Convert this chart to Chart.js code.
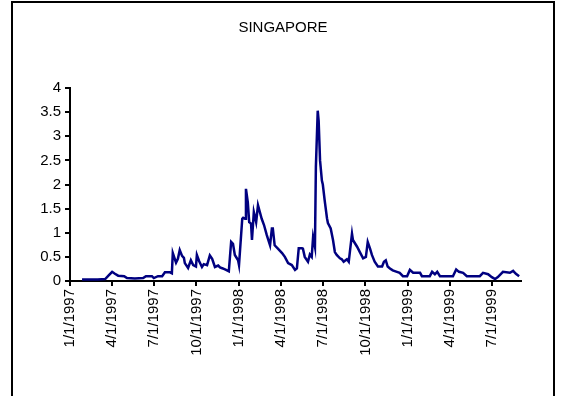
<!DOCTYPE html>
<html>
<head>
<meta charset="utf-8">
<script src="https://cdn.jsdelivr.net/npm/chart.js@4/dist/chart.umd.min.js"></script>
<style>
body{margin:0;background:#fff}
#wrap{position:relative;width:562px;height:396px;overflow:hidden}
#frame{position:absolute;left:11px;top:1px;width:540px;height:420px;border:2px solid #000}
#c{position:absolute;left:0;top:0}
#title{position:absolute;left:0;top:18px;width:566px;text-align:center;font:15px 'Liberation Sans',Arial,sans-serif;color:#000}
</style>
</head>
<body>
<div id="wrap">
<div id="frame"></div>
<canvas id="c" width="562" height="396"></canvas>
<div id="title">SINGAPORE</div>
</div>
<script>
// data
const dates=[
"1997-01-27","1997-02-13","1997-03-02","1997-03-18","1997-03-26","1997-04-02","1997-04-08","1997-04-15","1997-04-28","1997-05-04",
"1997-05-21","1997-06-08","1997-06-14","1997-06-27","1997-07-01","1997-07-10","1997-07-19","1997-07-25","1997-08-05","1997-08-09",
"1997-08-11","1997-08-18","1997-08-22","1997-08-26","1997-08-31","1997-09-04","1997-09-06","1997-09-13","1997-09-19","1997-09-24",
"1997-09-30","1997-10-02","1997-10-07","1997-10-13","1997-10-17","1997-10-24","1997-10-30","1997-11-04","1997-11-10","1997-11-17",
"1997-11-21","1997-11-27","1997-12-04","1997-12-10","1997-12-15","1997-12-19","1997-12-23","1997-12-30","1998-01-01","1998-01-08",
"1998-01-10","1998-01-14","1998-01-16","1998-01-20","1998-01-23","1998-01-27","1998-01-29","1998-02-02","1998-02-07","1998-02-11",
"1998-02-15","1998-02-19","1998-02-24","1998-03-02","1998-03-09","1998-03-13","1998-03-15","1998-03-19","1998-03-26","1998-04-04",
"1998-04-10","1998-04-17","1998-04-25","1998-05-02","1998-05-06","1998-05-10","1998-05-17","1998-05-19","1998-05-23","1998-05-30",
"1998-06-03","1998-06-07","1998-06-10","1998-06-14","1998-06-16","1998-06-20","1998-06-22","1998-06-25","1998-06-29","1998-07-01",
"1998-07-05","1998-07-10","1998-07-12","1998-07-18","1998-07-23","1998-07-27","1998-07-31","1998-08-07","1998-08-11","1998-08-15",
"1998-08-22","1998-08-26","1998-09-02","1998-09-04","1998-09-13","1998-09-19","1998-09-26","1998-10-02","1998-10-06","1998-10-11",
"1998-10-15","1998-10-21","1998-10-28","1998-11-06","1998-11-10","1998-11-14","1998-11-18","1998-11-23","1998-11-29","1998-12-08",
"1998-12-14","1998-12-21","1998-12-30","1999-01-05","1999-01-12","1999-01-27","1999-01-31","1999-02-17","1999-02-22","1999-02-28",
"1999-03-05","1999-03-11","1999-04-08","1999-04-15","1999-04-21","1999-04-30","1999-05-08","1999-06-05","1999-06-12","1999-06-23",
"1999-07-01","1999-07-08","1999-07-14","1999-07-25","1999-08-09","1999-08-16","1999-08-22","1999-08-29"
]
const values=[
0.03,0.03,0.03,0.04,0.12,0.19,0.15,0.11,0.10,0.06,
0.05,0.06,0.10,0.10,0.06,0.10,0.10,0.18,0.18,0.16,
0.58,0.38,0.46,0.64,0.52,0.48,0.37,0.27,0.43,0.33,
0.30,0.54,0.41,0.29,0.35,0.33,0.53,0.46,0.29,0.32,
0.28,0.26,0.23,0.20,0.81,0.77,0.54,0.43,0.33,1.29,
1.31,1.29,1.91,1.63,1.22,1.19,0.85,1.43,1.22,1.57,
1.43,1.29,1.16,0.95,0.74,1.09,1.09,0.74,0.67,0.58,
0.50,0.37,0.33,0.23,0.26,0.68,0.68,0.67,0.50,0.40,
0.55,0.50,0.91,0.71,2.36,3.53,3.32,2.50,2.08,2.00,
1.67,1.30,1.20,1.09,0.85,0.60,0.54,0.47,0.45,0.40,
0.45,0.40,0.98,0.85,0.71,0.60,0.47,0.50,0.81,0.67,
0.54,0.40,0.30,0.30,0.40,0.43,0.30,0.26,0.22,0.19,
0.17,0.10,0.10,0.23,0.17,0.17,0.10,0.10,0.19,0.14,
0.19,0.10,0.10,0.24,0.19,0.17,0.10,0.10,0.17,0.14,
0.08,0.04,0.08,0.19,0.17,0.21,0.15,0.10
]
const tickDates=["1997-01-01","1997-04-01","1997-07-01","1997-10-01","1998-01-01","1998-04-01","1998-07-01","1998-10-01","1999-01-01","1999-04-01","1999-07-01"]
const yTicks=[0,0.5,1,1.5,2,2.5,3,3.5,4]

const start=Date.UTC(1997,0,1)
function dayOf(s){
let p=s.split("-")
return Math.round((Date.UTC(+p[0],+p[1]-1,+p[2])-start)/86400000)
}
function label(d){
let t=new Date(start+d*86400000)
return (t.getUTCMonth()+1)+"/"+t.getUTCDate()+"/"+t.getUTCFullYear()
}

const pts=dates.map((d,i)=>({x:dayOf(d),y:values[i]}))
const xt=tickDates.map(dayOf)

Chart.defaults.font.family="'Liberation Sans', Arial, sans-serif"
Chart.defaults.font.size=15
Chart.defaults.color="#000"

new Chart(document.getElementById("c"),{
type:"line",
data:{datasets:[{
data:pts,
borderColor:"#000080",
borderWidth:2.5,
pointRadius:0,
tension:0,
fill:false
}]},
options:{
responsive:false,
animation:false,
layout:{padding:{left:0,right:41,top:88,bottom:0}},
plugins:{
legend:{display:false},
tooltip:{enabled:false},
title:{display:false}
},
scales:{
x:{
type:"linear",
min:0,
max:dayOf(dates[dates.length-1])+4,
afterBuildTicks:s=>{s.ticks=xt.map(v=>({value:v}))},
afterFit:s=>{s.height=115},
ticks:{autoSkip:false,minRotation:90,maxRotation:90,padding:3,callback:v=>label(v)},
grid:{display:true,drawOnChartArea:false,drawTicks:true,tickLength:5,color:"#000",lineWidth:2},
border:{display:true,color:"#000",width:2}
},
y:{
min:0,
max:4,
afterBuildTicks:s=>{s.ticks=yTicks.map(v=>({value:v}))},
afterFit:s=>{s.width=70},
ticks:{padding:4,callback:v=>String(v)},
grid:{display:true,drawOnChartArea:false,drawTicks:true,tickLength:5,color:"#000",lineWidth:2},
border:{display:true,color:"#000",width:2}
}
}
}
})
</script>
</body>
</html>
